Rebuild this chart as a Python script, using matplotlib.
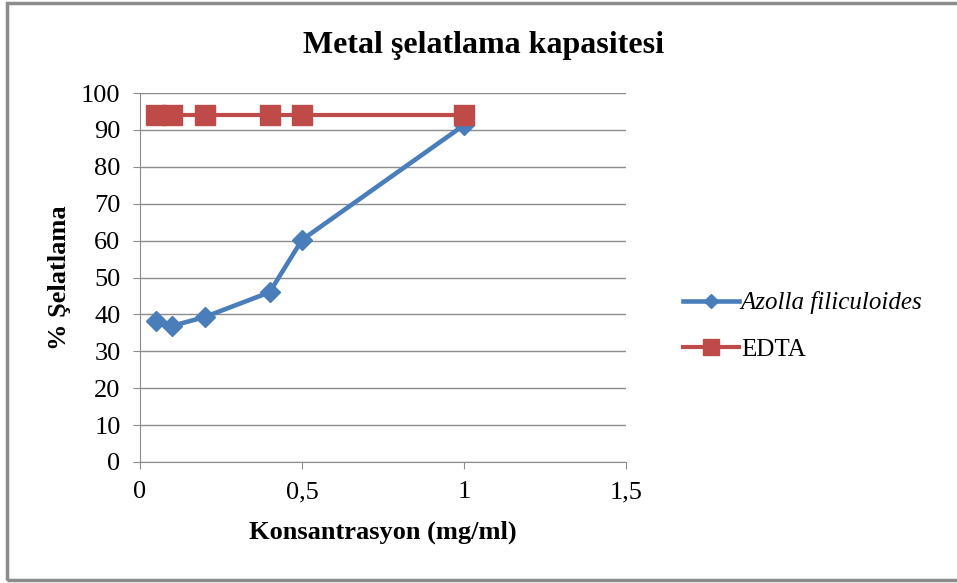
import numpy as np
from matplotlib import pyplot as plt
from matplotlib.patches import Rectangle
from matplotlib.ticker import FuncFormatter

# data
konsantrasyon = [0.05, 0.1, 0.2, 0.4, 0.5, 1.0]
azolla = [38.2, 36.9, 39.3, 46.0, 60.2, 91.3]
edta = [94.0, 94.0, 94.0, 94.0, 94.0, 94.0]
x_ticks = [0, 0.5, 1, 1.5]
y_ticks = list(range(0, 101, 10))

plt.rcParams['font.family'] = 'serif'
plt.rcParams['font.serif'] = ['Liberation Serif', 'DejaVu Serif']

fig = plt.figure(figsize=(9.57, 5.83), dpi=100)
ax = fig.add_axes([140 / 957, 121 / 583, 486 / 957, 369 / 583])

ax.plot(konsantrasyon, azolla, color='#4A7EBB', lw=3.3, marker='D', ms=10,
        label='Azolla filiculoides', zorder=3)
ax.plot(konsantrasyon, edta, color='#BE4B48', lw=3.0, marker='s', ms=15,
        label='EDTA', zorder=3)

ax.set_xlim(0, 1.5)
ax.set_ylim(0, 100)
ax.set_xticks(x_ticks)
ax.set_yticks(y_ticks)
ax.xaxis.set_major_formatter(FuncFormatter(lambda v, p: ('%g' % v).replace('.', ',')))
ax.grid(axis='y', color='#8C8C8C', lw=1)
ax.set_axisbelow(True)
for s in ['top', 'right']:
    ax.spines[s].set_visible(False)
for s in ['left', 'bottom']:
    ax.spines[s].set_color('#8C8C8C')
ax.tick_params(axis='both', colors='#8C8C8C', labelcolor='black', labelsize=19,
               length=5, direction='out')
ax.tick_params(axis='x', pad=9)
ax.tick_params(axis='y', pad=9)

ax.set_xlabel('Konsantrasyon (mg/ml)', fontsize=19, fontweight='bold', labelpad=12)
ax.set_ylabel('% Şelatlama', fontsize=19, fontweight='bold', labelpad=7)
fig.text(484 / 957, 1 - 45 / 583, 'Metal şelatlama kapasitesi', ha='center', va='center',
         fontsize=23, fontweight='bold')

leg = fig.legend(loc='center left', bbox_to_anchor=(660 / 957, 1 - 326 / 583),
                 frameon=False, fontsize=18, handlelength=2.25, labelspacing=0.95,
                 handletextpad=0.08, markerscale=0.75)
leg.get_texts()[0].set_fontstyle('italic')

# outer gray frame
fig.patches.append(Rectangle((7 / 957, 3 / 583), 1, 577 / 583, transform=fig.transFigure,
                             fill=False, edgecolor='#8C8C8C', lw=2.5))

fig.savefig('out.png', dpi=100)
